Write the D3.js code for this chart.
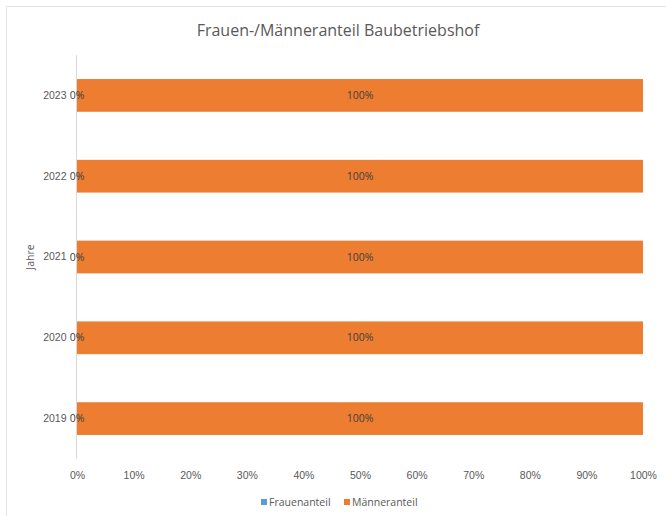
<!DOCTYPE html>
<html>
<head>
<meta charset="utf-8">
<script src="https://cdn.jsdelivr.net/npm/d3@7"></script>
<style>
  html, body { margin: 0; padding: 0; background: #fff; }
  svg { display: block; font-family: "Open Sans", sans-serif; }
</style>
</head>
<body>
<svg id="chart"></svg>
<script>
// Daten aus dem Diagramm
var jahre = ["2019", "2020", "2021", "2022", "2023"];
var frauenanteil = [0, 0, 0, 0, 0];
var maenneranteil = [1, 1, 1, 1, 1];
var serien = ["Frauenanteil", "Männeranteil"];
var farben = ["#5B9BD5", "#ED7D31"];
var xTicks = [0, 0.1, 0.2, 0.3, 0.4, 0.5, 0.6, 0.7, 0.8, 0.9, 1];

var width = 666, height = 516;
var textFarbe = "#595959";

var svg = d3.select("#chart")
    .attr("width", width)
    .attr("height", height);

// Rahmen des Diagrammbereichs
svg.append("rect")
    .attr("x", 6.5).attr("y", 6.5)
    .attr("width", 700).attr("height", 600)
    .attr("fill", "none")
    .attr("stroke", "#e3e3e3");

var plot = { left: 77, right: 643, top: 55, bottom: 459 };

var x = d3.scaleLinear()
    .domain([0, 1])
    .range([plot.left, plot.right]);

// oberstes Jahr oben
var y = d3.scaleBand()
    .domain(jahre.slice().reverse())
    .range([plot.top, plot.bottom])
    .paddingInner(0.595)
    .paddingOuter(0.2975);

var daten = jahre.map(function (j, i) {
    return { jahr: j, Frauenanteil: frauenanteil[i], "Männeranteil": maenneranteil[i] };
});
var stack = d3.stack().keys(serien)(daten);

// Titel
svg.append("text")
    .attr("x", 338).attr("y", 36)
    .attr("text-anchor", "middle")
    .attr("font-size", 16)
    .attr("fill", textFarbe)
    .text("Frauen-/Männeranteil Baubetriebshof");

// Balken
svg.append("g")
    .selectAll("g")
    .data(stack)
    .enter().append("g")
    .attr("fill", function (d, i) { return farben[i]; })
    .selectAll("rect")
    .data(function (d) { return d; })
    .enter().append("rect")
    .attr("x", function (d) { return x(d[0]); })
    .attr("y", function (d) { return y(d.data.jahr); })
    .attr("width", function (d) { return x(d[1]) - x(d[0]); })
    .attr("height", y.bandwidth());

// Y-Achse (Linie und Beschriftung)
svg.append("line")
    .attr("x1", plot.left - 0.5).attr("x2", plot.left - 0.5)
    .attr("y1", plot.top).attr("y2", plot.bottom)
    .attr("stroke", "#d9d9d9");

var yAxis = svg.append("g")
    .attr("transform", "translate(" + (plot.left - 0.5) + ",0)")
    .call(d3.axisLeft(y).tickSize(0).tickPadding(10));
yAxis.select(".domain").remove();
yAxis.selectAll("text")
    .attr("font-size", 10.5)
    .attr("fill", textFarbe);

// X-Achse (nur Beschriftung)
var xAxis = svg.append("g")
    .attr("transform", "translate(0," + plot.bottom + ")")
    .call(d3.axisBottom(x).tickValues(xTicks).tickFormat(d3.format(".0%")).tickSize(0).tickPadding(13));
xAxis.select(".domain").remove();
xAxis.selectAll("text")
    .attr("font-size", 10.5)
    .attr("fill", textFarbe);

// Datenbeschriftungen
stack.forEach(function (s) {
    svg.append("g")
        .selectAll("text")
        .data(s)
        .enter().append("text")
        .attr("x", function (d) { return (x(d[0]) + x(d[1])) / 2; })
        .attr("y", function (d) { return y(d.data.jahr) + y.bandwidth() / 2; })
        .attr("dy", "0.35em")
        .attr("text-anchor", "middle")
        .attr("font-size", 10.5)
        .attr("fill", "#404040")
        .text(function (d) { return d3.format(".0%")(d[1] - d[0]); });
});

// Achsentitel
svg.append("text")
    .attr("transform", "translate(34," + ((plot.top + plot.bottom) / 2) + ") rotate(-90)")
    .attr("text-anchor", "middle")
    .attr("font-size", 10.5)
    .attr("fill", textFarbe)
    .text("Jahre");

// Legende
var legende = svg.append("g").attr("transform", "translate(261,499)");
var eintraege = legende.selectAll("g")
    .data(serien)
    .enter().append("g")
    .attr("transform", function (d, i) { return "translate(" + (i * 83) + ",0)"; });
eintraege.append("rect")
    .attr("width", 6).attr("height", 6)
    .attr("fill", function (d, i) { return farben[i]; });
eintraege.append("text")
    .attr("x", 8).attr("y", 3)
    .attr("dy", "0.35em")
    .attr("font-size", 10.5)
    .attr("fill", textFarbe)
    .text(function (d) { return d; });
</script>
</body>
</html>
